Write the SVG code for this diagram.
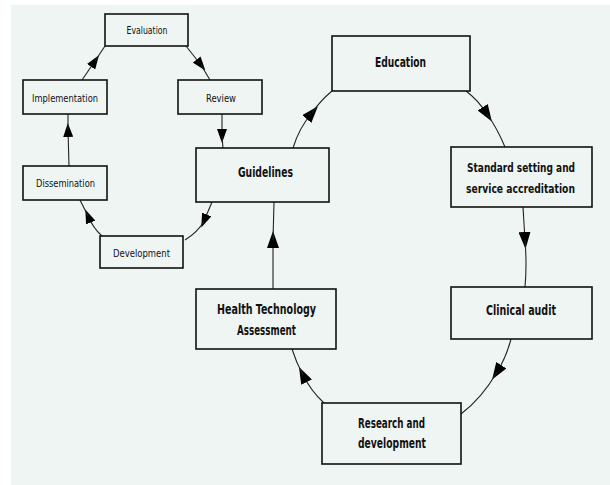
<svg xmlns="http://www.w3.org/2000/svg" width="610" height="485" viewBox="0 0 610 485">
<style>
.box{fill:#eef5f3;stroke:#111;stroke-width:1.6}
.sm{font-family:"DejaVu Sans Condensed","DejaVu Sans",sans-serif;font-size:11px;fill:#111;text-anchor:middle}
.bg{font-family:"DejaVu Sans Condensed","DejaVu Sans",sans-serif;font-size:14px;font-weight:bold;fill:#111;text-anchor:middle}
.bs{font-size:12px}
.c{fill:none;stroke:#222;stroke-width:1.1}
.ca{fill:none;stroke:#222;stroke-width:1.1;marker-end:url(#a)}
.cb{fill:none;stroke:#222;stroke-width:1.1;marker-end:url(#b)}
</style>
<defs>
<marker id="a" markerUnits="userSpaceOnUse" markerWidth="14" markerHeight="10" refX="7" refY="5" orient="auto" viewBox="0 0 14 10"><path d="M0,0 L14,5 L0,10 Z" fill="#000"/></marker>
<marker id="b" markerUnits="userSpaceOnUse" markerWidth="17" markerHeight="12" refX="8" refY="6" orient="auto" viewBox="0 0 17 12"><path d="M0,0 L17,6 L0,12 Z" fill="#000"/></marker>
</defs>
<rect x="0" y="0" width="610" height="485" fill="#ffffff"/>
<rect x="11" y="5" width="599" height="480" fill="#eef5f3"/>
<g id="connectors">
<path class="ca" d="M186,46 L201,65"/><path class="c" d="M201,65 L210,80"/>
<path class="ca" d="M222,114 L222,136"/><path class="c" d="M222,136 L223,148"/>
<path class="ca" d="M212,202 L204,221"/><path class="c" d="M204,221 Q198,232 185,240"/>
<path class="ca" d="M102,236 Q93,228 88,216"/><path class="c" d="M88,216 L80,200"/>
<path class="ca" d="M69,166 L68,130"/><path class="c" d="M68,130 L68,114"/>
<path class="ca" d="M82,80 L95,61"/><path class="c" d="M95,61 L105,46"/>
<path class="cb" d="M293,148 Q299,128 312,113"/><path class="c" d="M312,113 Q320,101 332,91"/>
<path class="cb" d="M466,91 Q478,100 487,114"/><path class="c" d="M487,114 Q497,128 505,147"/>
<path class="cb" d="M523,207 L525,240"/><path class="c" d="M525,240 Q527,265 525,287"/>
<path class="cb" d="M511,339 Q506,358 497,372"/><path class="c" d="M497,372 Q482,398 461,414"/>
<path class="cb" d="M324,403 Q311,391 303,375"/><path class="c" d="M303,375 Q296,362 292,349"/>
<path class="cb" d="M273,289 L273,240"/><path class="c" d="M273,240 L274,202"/>
</g>
<g id="evaluation"><rect class="box" x="105" y="14" width="83" height="32"/><text class="sm" x="147" y="34" textLength="41" lengthAdjust="spacingAndGlyphs">Evaluation</text></g>
<g id="review"><rect class="box" x="178" y="80" width="84" height="34"/><text class="sm" x="221" y="102" textLength="30" lengthAdjust="spacingAndGlyphs">Review</text></g>
<g id="implementation"><rect class="box" x="23" y="80" width="84" height="34"/><text class="sm" x="65" y="102" textLength="66" lengthAdjust="spacingAndGlyphs">Implementation</text></g>
<g id="dissemination"><rect class="box" x="23" y="166" width="84" height="34"/><text class="sm" x="65.5" y="187" textLength="59" lengthAdjust="spacingAndGlyphs">Dissemination</text></g>
<g id="development"><rect class="box" x="100" y="236" width="83" height="32"/><text class="sm" x="141.5" y="257" textLength="57" lengthAdjust="spacingAndGlyphs">Development</text></g>
<g id="guidelines"><rect class="box" x="196" y="148" width="133" height="54"/><text class="bg" x="265.5" y="177" textLength="55" lengthAdjust="spacingAndGlyphs">Guidelines</text></g>
<g id="education"><rect class="box" x="332" y="36" width="138" height="55"/><text class="bg" x="400.5" y="67" textLength="51" lengthAdjust="spacingAndGlyphs">Education</text></g>
<g id="standard"><rect class="box" x="451" y="147" width="141" height="60"/><text class="bg bs" x="521" y="172" textLength="108" lengthAdjust="spacingAndGlyphs">Standard setting and</text><text class="bg bs" x="520.5" y="193" textLength="109" lengthAdjust="spacingAndGlyphs">service accreditation</text></g>
<g id="clinical-audit"><rect class="box" x="451" y="287" width="141" height="52"/><text class="bg" x="521" y="315" textLength="70" lengthAdjust="spacingAndGlyphs">Clinical audit</text></g>
<g id="hta"><rect class="box" x="196" y="289" width="140" height="60"/><text class="bg" x="266.5" y="314" textLength="99" lengthAdjust="spacingAndGlyphs">Health Technology</text><text class="bg" x="266.5" y="335" textLength="59" lengthAdjust="spacingAndGlyphs">Assessment</text></g>
<g id="research"><rect class="box" x="322" y="403" width="139" height="61"/><text class="bg" x="391.5" y="428" textLength="67" lengthAdjust="spacingAndGlyphs">Research and</text><text class="bg" x="392" y="448" textLength="68" lengthAdjust="spacingAndGlyphs">development</text></g>
</svg>
